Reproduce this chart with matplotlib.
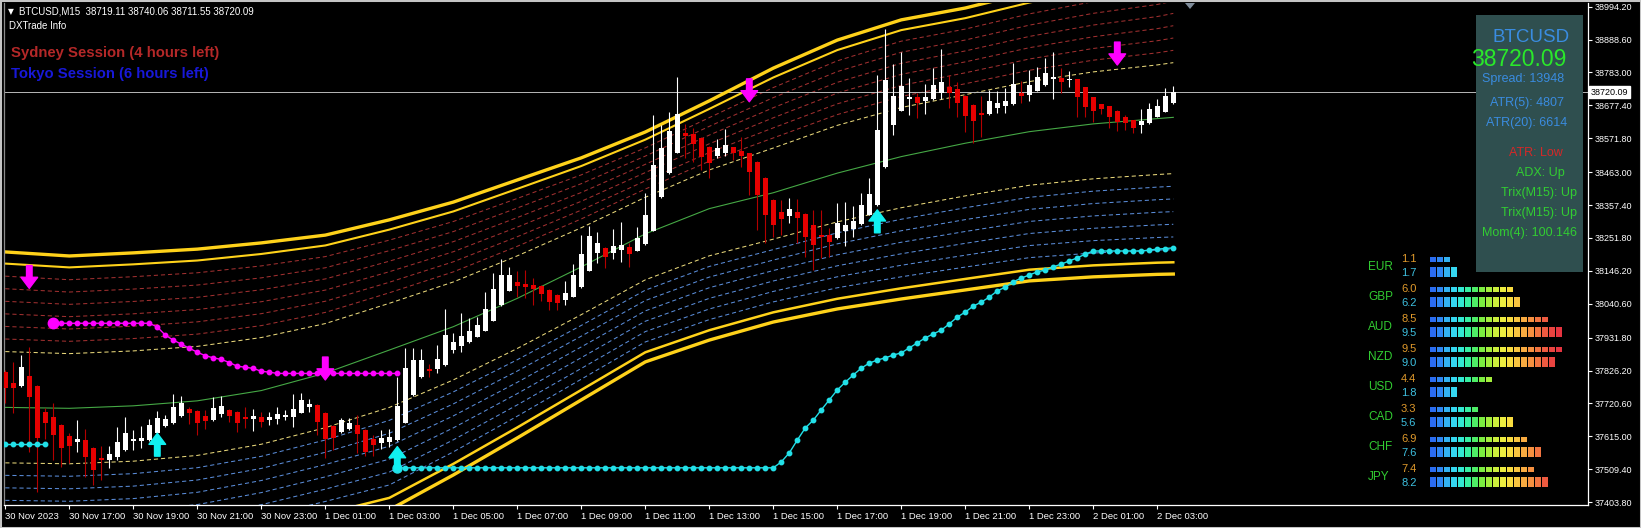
import math
import numpy as np
import matplotlib
matplotlib.use("Agg")
import matplotlib.pyplot as plt
from matplotlib.patches import Rectangle, Polygon
from matplotlib.transforms import blended_transform_factory

# ---------------- data ----------------
symbol = "BTCUSD"
timeframe = "M15"
header_ohlc = [38719.11, 38740.06, 38711.55, 38720.09]
last_price = 38720.09
spread = 13948

opens = [37822, 37787, 37778, 37809, 37777, 37693, 37676, 37651, 37616, 37598,
         37603, 37579, 37547, 37539, 37550, 37571, 37599, 37601, 37603, 37625,
         37648, 37659, 37680, 37702, 37697, 37680, 37668, 37687, 37700, 37692,
         37676, 37670, 37676, 37668, 37670, 37676, 37678, 37691, 37708, 37716,
         37691, 37648, 37630, 37639, 37651, 37635, 37606, 37593, 37597, 37603,
         37659, 37748, 37805, 37831, 37830, 37844, 37892, 37905, 37919, 37935,
         37954, 37986, 38037, 38083, 38111, 38104, 38101, 38098, 38085, 38069,
         38053, 38063, 38094, 38147, 38203, 38219, 38205, 38213, 38222, 38211,
         38232, 38275, 38382, 38459, 38526, 38590, 38586, 38572, 38545, 38516,
         38526, 38543, 38532, 38524, 38496, 38444, 38374, 38335, 38322, 38335,
         38329, 38294, 38262, 38262, 38251, 38275, 38282, 38296, 38326, 38358,
         38479, 38614, 38660, 38698, 38703, 38692, 38699, 38716, 38735, 38729,
         38708, 38679, 38652, 38650, 38670, 38675, 38682, 38716, 38711, 38725,
         38743, 38763, 38765, 38760, 38761, 38735, 38703, 38682, 38675, 38659,
         38639, 38630, 38614, 38620, 38641, 38657, 38684]
highs = [37828, 37855, 37876, 37901, 37780, 37705, 37721, 37655, 37625, 37668,
         37638, 37582, 37584, 37584, 37644, 37676, 37635, 37648, 37672, 37697,
         37684, 37751, 37745, 37708, 37700, 37700, 37740, 37745, 37704, 37696,
         37708, 37704, 37693, 37694, 37708, 37700, 37751, 37753, 37736, 37719,
         37693, 37651, 37673, 37673, 37684, 37639, 37619, 37635, 37638, 37806,
         37898, 37898, 37895, 37847, 37908, 38024, 37946, 38010, 37994, 37999,
         38079, 38138, 38183, 38158, 38146, 38149, 38122, 38101, 38088, 38072,
         38114, 38167, 38261, 38290, 38272, 38224, 38280, 38302, 38237, 38286,
         38395, 38647, 38614, 38657, 38769, 38618, 38604, 38576, 38547, 38570,
         38601, 38545, 38575, 38526, 38499, 38447, 38377, 38374, 38379, 38376,
         38332, 38342, 38342, 38283, 38365, 38368, 38354, 38395, 38443, 38775,
         38922, 38810, 38849, 38764, 38716, 38746, 38796, 38857, 38775, 38753,
         38711, 38682, 38708, 38727, 38725, 38732, 38813, 38756, 38791, 38802,
         38829, 38850, 38796, 38789, 38762, 38736, 38704, 38683, 38677, 38661,
         38647, 38632, 38665, 38684, 38697, 38732, 38740]
lows = [37721, 37691, 37773, 37566, 37436, 37606, 37539, 37518, 37529, 37566,
        37486, 37459, 37475, 37513, 37539, 37568, 37571, 37577, 37600, 37623,
        37644, 37655, 37677, 37655, 37619, 37638, 37664, 37678, 37662, 37630,
        37641, 37633, 37646, 37651, 37655, 37668, 37646, 37690, 37694, 37619,
        37545, 37571, 37625, 37635, 37563, 37552, 37552, 37575, 37582, 37600,
        37658, 37745, 37802, 37805, 37817, 37841, 37884, 37887, 37914, 37934,
        37953, 37985, 38033, 38082, 38063, 38060, 38037, 38050, 38021, 38021,
        38037, 38062, 38091, 38146, 38171, 38154, 38183, 38176, 38160, 38210,
        38229, 38274, 38380, 38457, 38525, 38508, 38497, 38470, 38443, 38508,
        38515, 38502, 38481, 38390, 38277, 38235, 38256, 38261, 38301, 38235,
        38192, 38149, 38187, 38190, 38248, 38226, 38256, 38293, 38324, 38354,
        38476, 38582, 38659, 38647, 38638, 38650, 38695, 38697, 38668, 38641,
        38593, 38558, 38575, 38648, 38654, 38654, 38680, 38684, 38692, 38723,
        38741, 38699, 38716, 38737, 38641, 38641, 38625, 38650, 38604, 38596,
        38598, 38590, 38590, 38618, 38640, 38656, 38683]
closes = [37769, 37771, 37837, 37742, 37609, 37659, 37619, 37579, 37584, 37608,
          37550, 37507, 37539, 37558, 37597, 37625, 37606, 37610, 37650, 37675,
          37671, 37708, 37721, 37689, 37659, 37663, 37706, 37712, 37680, 37659,
          37672, 37680, 37662, 37678, 37687, 37683, 37702, 37732, 37718, 37662,
          37606, 37609, 37668, 37659, 37623, 37566, 37587, 37609, 37614, 37712,
          37833, 37860, 37859, 37826, 37863, 37941, 37917, 37938, 37953, 37972,
          38024, 38088, 38133, 38133, 38099, 38095, 38089, 38072, 38047, 38042,
          38076, 38133, 38200, 38258, 38237, 38192, 38226, 38229, 38200, 38251,
          38326, 38486, 38540, 38595, 38650, 38579, 38554, 38513, 38492, 38540,
          38549, 38524, 38515, 38465, 38390, 38326, 38293, 38314, 38344, 38317,
          38256, 38229, 38256, 38240, 38299, 38293, 38306, 38358, 38393, 38598,
          38759, 38708, 38740, 38703, 38686, 38705, 38743, 38752, 38718, 38686,
          38643, 38628, 38647, 38692, 38684, 38692, 38746, 38708, 38743, 38769,
          38782, 38768, 38752, 38763, 38705, 38671, 38660, 38665, 38639, 38625,
          38620, 38604, 38628, 38665, 38675, 38708, 38720.09]

# envelope channel (sampled every 2 hours)
band_k = [0, 8, 16, 24, 32, 40, 48, 56, 64, 72, 80, 88, 96, 104, 112, 120, 128, 136, 144, 146]
mid_line = [37708, 37705, 37713, 37729, 37762, 37818, 37892, 37967, 38058, 38159,
            38265, 38346, 38397, 38460, 38513, 38556, 38593, 38618, 38635, 38639]
upper_band = [38207, 38194, 38204, 38216, 38236, 38261, 38310, 38367, 38438, 38509,
              38592, 38692, 38797, 38887, 38952, 38990, 39041, 39083, 39115, 39128]
lower_band = [37212, 37209, 37218, 37241, 37282, 37330, 37379, 37491, 37610, 37732,
              37854, 37924, 37982, 38024, 38056, 38085, 38114, 38127, 38135, 38136]

# magenta trailing stop (bars 6..49)
magenta_start = 6
magenta_line = [37978, 37978, 37978, 37978, 37978, 37978, 37978, 37978, 37978, 37978,
                37978, 37978, 37978, 37966, 37940, 37924, 37911, 37898, 37885, 37874,
                37867, 37862, 37852, 37840, 37837, 37833, 37824, 37821, 37817, 37817,
                37817, 37817, 37817, 37817, 37817, 37817, 37817, 37817, 37817, 37817,
                37817, 37817, 37817, 37817]
# cyan trailing stop: bars 0..5 and 49..146
cyan_left_start = 0
cyan_left = [37589, 37589, 37589, 37589, 37589, 37589]
cyan_start = 49
cyan_line = [37514, 37514, 37514, 37514, 37514, 37514, 37514, 37514, 37514, 37514,
             37514, 37514, 37514, 37514, 37514, 37514, 37514, 37514, 37514, 37514,
             37514, 37514, 37514, 37514, 37514, 37514, 37514, 37514, 37514, 37514,
             37514, 37514, 37514, 37514, 37514, 37514, 37514, 37514, 37514, 37514,
             37514, 37514, 37514, 37514, 37514, 37514, 37514, 37514,
             37533, 37562, 37603, 37642, 37667, 37700, 37732, 37764, 37789, 37812,
             37834, 37850, 37860, 37867, 37876, 37883, 37899, 37915, 37931, 37944,
             37956, 37976, 37998, 38014, 38033, 38046, 38062, 38082, 38094, 38111,
             38123, 38133, 38143, 38149, 38159, 38168, 38178, 38188, 38200, 38210,
             38210, 38210, 38210, 38210, 38210, 38210, 38213, 38216, 38218, 38220]

sell_arrow_bars = [3, 40, 93, 139]
sell_arrow_prices = [38090, 37796, 38689, 38807]
buy_arrow_bars = [19, 49, 109]
buy_arrow_prices = [37625, 37582, 38342]

time_tick_bars = [0, 8, 16, 24, 32, 40, 48, 56, 64, 72, 80, 88, 96, 104, 112, 120, 128, 136, 144]
time_tick_labels = ["30 Nov 2023", "30 Nov 17:00", "30 Nov 19:00", "30 Nov 21:00", "30 Nov 23:00",
                    "1 Dec 01:00", "1 Dec 03:00", "1 Dec 05:00", "1 Dec 07:00", "1 Dec 09:00",
                    "1 Dec 11:00", "1 Dec 13:00", "1 Dec 15:00", "1 Dec 17:00", "1 Dec 19:00",
                    "1 Dec 21:00", "1 Dec 23:00", "2 Dec 01:00", "2 Dec 03:00"]
price_ticks = [38994.20, 38888.60, 38783.00, 38677.40, 38571.80, 38463.00, 38357.40, 38251.80,
               38146.20, 38040.60, 37931.80, 37826.20, 37720.60, 37615.00, 37509.40, 37403.80]

info_lines = ["ATR(5): 4807", "ATR(20): 6614"]
signal_lines = ["ATR: Low", "ADX: Up", "Trix(M15): Up", "Trix(M15): Up", "Mom(4): 100.146"]

currencies = ["EUR", "GBP", "AUD", "NZD", "USD", "CAD", "CHF", "JPY"]
strength_prev = [1.1, 6.0, 8.5, 9.5, 4.4, 3.3, 6.9, 7.4]
strength_now = [1.7, 6.2, 9.5, 9.0, 1.8, 5.6, 7.6, 8.2]

# ---------------- figure ----------------
W, H, DPI = 1641, 528, 100
FONT = "Liberation Sans"
plt.rcParams["font.family"] = [FONT, "DejaVu Sans"]

fig = plt.figure(figsize=(W / DPI, H / DPI), dpi=DPI, facecolor="black")
L, R, T, B = 4, 1588, 3, 505
ax = fig.add_axes([L / W, 1 - B / H, (R - L) / W, (B - T) / H])
ax.set_facecolor("black")

PX0, PXSTEP = 5.3, 8.0  # pixel position of bar 0 and bar spacing
ax.set_xlim((L - PX0) / PXSTEP, (R - PX0) / PXSTEP)
ax.set_ylim(37394.65, 39006.07)

# envelope
bk = np.array(band_k, float)
mid = np.array(mid_line, float)
ug = np.array(upper_band, float) - mid
lg = mid - np.array(lower_band, float)
f_yel, f_in = 0.359, 0.925
steps = [f_yel + i * (f_in - f_yel) / 7 for i in range(1, 7)]
dash = dict(lw=0.75, dashes=(4, 2.8))
for f in steps:
    ax.plot(bk, mid + f * ug, color="#A03030", zorder=1, **dash)
    ax.plot(bk, mid - f * lg, color="#5A8CD8", zorder=1, **dash)
ax.plot(bk, mid + f_yel * ug, color="#E8D77A", zorder=1, **dash)
ax.plot(bk, mid - f_yel * lg, color="#E8D77A", zorder=1, **dash)
ax.plot(bk, mid + f_in * ug, color="#FFD21A", lw=1.5, zorder=2)
ax.plot(bk, mid + ug, color="#FFD21A", lw=2.4, zorder=2)
ax.plot(bk, mid - f_in * lg, color="#FFD21A", lw=1.8, zorder=2)
ax.plot(bk, mid - lg, color="#FFD21A", lw=2.4, zorder=2)
ax.plot(bk, mid, color="#45A845", lw=0.8, zorder=2)

# current price line
ax.axhline(last_price, color="#B8B8B8", lw=0.7, zorder=1.5)

# candles
o = np.array(opens, float); c = np.array(closes, float)
h = np.array(highs, float); lo = np.array(lows, float)
idx = np.arange(len(o))
bull = c >= o
body_col = np.where(bull, "#FFFFFF", "#E60000")
wick_col = np.where(bull, "#FFFFFF", "#B40000")
ax.vlines(idx, lo, h, colors=wick_col, lw=0.8, zorder=3)
bot = np.minimum(o, c)
hgt = np.maximum(np.abs(c - o), 3.5)
ax.bar(idx, hgt, bottom=bot, width=0.64, color=body_col, lw=0, zorder=4)

# trailing stop dots
mk = np.arange(magenta_start, magenta_start + len(magenta_line))
ax.plot(mk, magenta_line, color="#FF00FF", lw=1, marker="o", ms=3.2, zorder=5)
ax.plot(mk[0], magenta_line[0], "o", color="#FF00FF", ms=7.5, zorder=5)
ck = np.arange(cyan_left_start, cyan_left_start + len(cyan_left))
ax.plot(ck, cyan_left, color="#22E0E8", lw=1, marker="o", ms=3.2, zorder=5)
ck2 = np.arange(cyan_start, cyan_start + len(cyan_line))
ax.plot(ck2, cyan_line, color="#22E0E8", lw=1, marker="o", ms=3.2, zorder=5)
ax.plot(ck2[0], cyan_line[0], "o", color="#22E0E8", ms=6.5, zorder=5)

# signal arrows
style = "simple,head_length=0.8,head_width=1.2,tail_width=0.4"
for k, p in zip(sell_arrow_bars, sell_arrow_prices):
    ax.annotate("", xy=(k, p), xytext=(0, 16.5), textcoords="offset points",
                arrowprops=dict(arrowstyle=style, color="#FF00FF", shrinkA=0, shrinkB=0,
                                mutation_scale=10), zorder=6)
for k, p in zip(buy_arrow_bars, buy_arrow_prices):
    ax.annotate("", xy=(k, p), xytext=(0, -16.5), textcoords="offset points",
                arrowprops=dict(arrowstyle=style, color="#10F0F0", shrinkA=0, shrinkB=0,
                                mutation_scale=10), zorder=6)

# axes styling
ax.spines["top"].set_visible(False)
ax.spines["left"].set_color("#8A8A8A")
ax.spines["right"].set_color("white")
ax.spines["bottom"].set_color("white")
for s in ["left", "right", "bottom"]:
    ax.spines[s].set_linewidth(0.9)
ax.yaxis.tick_right()
ax.set_yticks(price_ticks)
ax.set_yticklabels([f"{v:.2f}" for v in price_ticks])
ax.set_xticks(time_tick_bars)
ax.set_xticklabels(time_tick_labels)
ax.tick_params(axis="x", colors="white", length=3, width=0.8, pad=2, labelsize=6.8)
ax.tick_params(axis="y", colors="white", length=3, width=0.8, pad=2, labelsize=6.5)
for lbl in ax.get_xticklabels():
    lbl.set_horizontalalignment("left")

# price tag
tr = blended_transform_factory(ax.transAxes, ax.transData)
ax.text(1.0 + 3 / (R - L), last_price, f"{last_price:.2f}", transform=tr, ha="left", va="center",
        fontsize=6.5, color="black", zorder=10, clip_on=False,
        bbox=dict(boxstyle="square,pad=0.2", fc="white", ec="white"))

# ---------------- overlay in pixel space ----------------
ov = fig.add_axes([0, 0, 1, 1], zorder=5)
ov.set_xlim(0, W); ov.set_ylim(H, 0); ov.axis("off"); ov.patch.set_visible(False)

ov.text(8, 12, "\u25BC", color="white", fontsize=5.5, va="center", ha="left", family="DejaVu Sans")
ov.text(19, 12, f"{symbol},{timeframe}  " + " ".join(f"{v:.2f}" for v in header_ohlc),
        color="white", fontsize=7, va="center", ha="left")
ov.text(9, 26, "DXTrade Info", color="white", fontsize=7, va="center", ha="left")
ov.text(11, 53, "Sydney Session (4 hours left)", color="#B42828", fontsize=10.7,
        fontweight="bold", va="center", ha="left")
ov.text(11, 74, "Tokyo Session (6 hours left)", color="#1818D8", fontsize=10.7,
        fontweight="bold", va="center", ha="left")

# chart shift marker
ov.add_patch(Polygon([(1185, 3), (1195, 3), (1190, 9)], closed=True, color="#7F8C9A", lw=0))

# info panel
ov.add_patch(Rectangle((1476, 15), 107, 257, color="#2F4F4F", lw=0))
blue_t = "#3A8CE0"
ov.text(1531, 38, symbol, color=blue_t, fontsize=13.5, ha="center", va="center")
ov.text(1519, 60, f"{last_price:.2f}", color="#2AE82A", fontsize=16.5, ha="center", va="center")
ov.text(1523, 79, f"Spread: {spread}", color=blue_t, fontsize=9, ha="center", va="center")
for i, s in enumerate(info_lines):
    ov.text(1527, 103 + 20 * i, s, color=blue_t, fontsize=9, ha="center", va="center")
sig_cols = ["#D42828", "#32CD32", "#32CD32", "#32CD32", "#32CD32"]
sig_x = [1536, 1540, 1539, 1539, 1529]
for i, s in enumerate(signal_lines):
    ov.text(sig_x[i], 153.5 + 19.8 * i, s, color=sig_cols[i], fontsize=9, ha="center", va="center")

# currency strength meter
seg_colors = ["#2B6CF0", "#2F86F2", "#33B2F2", "#35D6F0", "#33E8D2", "#36F0A2", "#4EEE66",
              "#7CEE40", "#A4EE3C", "#CCEE3C", "#ECEC40", "#F8DC40", "#F8C440", "#F8AA40",
              "#F69040", "#F27440", "#EE5A40", "#EA4440", "#E63440"]
for i, cur in enumerate(currencies):
    ytop = 259.3 + 30 * i
    ybot = 272.0 + 30 * i
    ov.text(1368, (ytop + ybot) / 2 + 1.5, cur, color="#32CD32", fontsize=8.5, ha="left", va="center")
    ov.text(1401, ytop, f"{strength_prev[i]:.1f}", color="#E09A2C", fontsize=8, ha="left", va="center")
    ov.text(1401, ybot + 1, f"{strength_now[i]:.1f}", color="#3EC0E0", fontsize=8, ha="left", va="center")
    n1 = math.ceil(round(strength_prev[i] * 2, 6))
    n2 = math.ceil(round(strength_now[i] * 2, 6))
    for j in range(n1):
        ov.add_patch(Rectangle((1430 + 7 * j, ytop - 2.2), 5.6, 4.4, color=seg_colors[j], lw=0))
    for j in range(n2):
        ov.add_patch(Rectangle((1430 + 7 * j, ybot - 4.7), 5.6, 9.4, color=seg_colors[j], lw=0))

# window frame
ov.add_patch(Rectangle((0, 0), W, H, fill=False, ec="#C4C4C4", lw=2.2))

fig.savefig("out.png", dpi=DPI, facecolor="black")
